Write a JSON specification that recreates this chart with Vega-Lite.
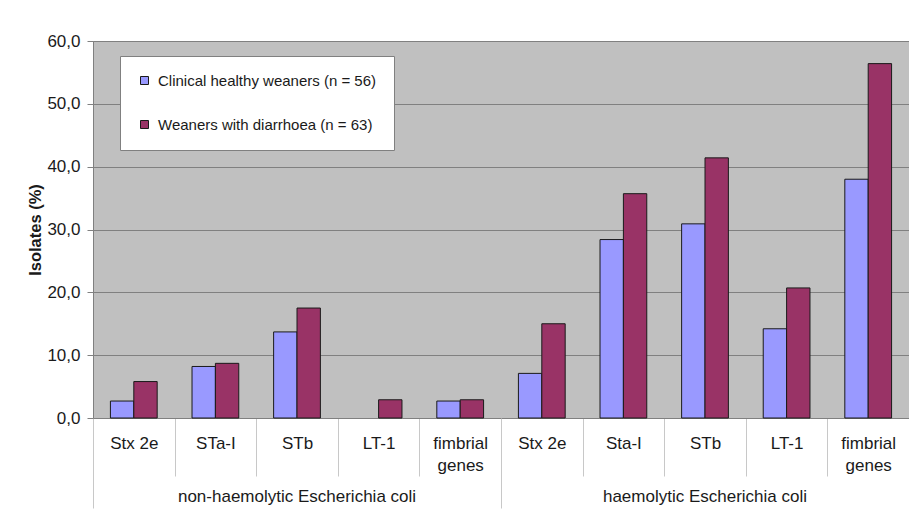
{
  "$schema": "https://vega.github.io/schema/vega-lite/v6.json",
  "width": 816,
  "height": 377,
  "autosize": {"type": "none"},
  "padding": {"left": 93, "top": 41, "right": 0, "bottom": 107},
  "background": "white",
  "config": {
    "font": "Liberation Sans",
    "view": {"fill": "#C0C0C0", "stroke": "#808080"},
    "axis": {"labelColor": "#1a1a1a", "titleColor": "#1a1a1a", "labelLimit": 0}
  },
  "data": {
    "values": [
      {"cat": "non-haemolytic Escherichia coli|Stx 2e", "series": "Clinical healthy weaners (n = 56)", "value": 2.7},
      {"cat": "non-haemolytic Escherichia coli|Stx 2e", "series": "Weaners with diarrhoea (n = 63)", "value": 5.8},
      {"cat": "non-haemolytic Escherichia coli|STa-I", "series": "Clinical healthy weaners (n = 56)", "value": 8.2},
      {"cat": "non-haemolytic Escherichia coli|STa-I", "series": "Weaners with diarrhoea (n = 63)", "value": 8.7},
      {"cat": "non-haemolytic Escherichia coli|STb", "series": "Clinical healthy weaners (n = 56)", "value": 13.7},
      {"cat": "non-haemolytic Escherichia coli|STb", "series": "Weaners with diarrhoea (n = 63)", "value": 17.5},
      {"cat": "non-haemolytic Escherichia coli|LT-1", "series": "Clinical healthy weaners (n = 56)", "value": 0},
      {"cat": "non-haemolytic Escherichia coli|LT-1", "series": "Weaners with diarrhoea (n = 63)", "value": 2.9},
      {"cat": "non-haemolytic Escherichia coli|fimbrial genes", "series": "Clinical healthy weaners (n = 56)", "value": 2.7},
      {"cat": "non-haemolytic Escherichia coli|fimbrial genes", "series": "Weaners with diarrhoea (n = 63)", "value": 2.9},
      {"cat": "haemolytic Escherichia coli|Stx 2e", "series": "Clinical healthy weaners (n = 56)", "value": 7.1},
      {"cat": "haemolytic Escherichia coli|Stx 2e", "series": "Weaners with diarrhoea (n = 63)", "value": 15.0},
      {"cat": "haemolytic Escherichia coli|Sta-I", "series": "Clinical healthy weaners (n = 56)", "value": 28.4},
      {"cat": "haemolytic Escherichia coli|Sta-I", "series": "Weaners with diarrhoea (n = 63)", "value": 35.7},
      {"cat": "haemolytic Escherichia coli|STb", "series": "Clinical healthy weaners (n = 56)", "value": 30.9},
      {"cat": "haemolytic Escherichia coli|STb", "series": "Weaners with diarrhoea (n = 63)", "value": 41.4},
      {"cat": "haemolytic Escherichia coli|LT-1", "series": "Clinical healthy weaners (n = 56)", "value": 14.2},
      {"cat": "haemolytic Escherichia coli|LT-1", "series": "Weaners with diarrhoea (n = 63)", "value": 20.7},
      {"cat": "haemolytic Escherichia coli|fimbrial genes", "series": "Clinical healthy weaners (n = 56)", "value": 38.0},
      {"cat": "haemolytic Escherichia coli|fimbrial genes", "series": "Weaners with diarrhoea (n = 63)", "value": 56.4}
    ]
  },
  "layer": [
    {
      "mark": {"type": "bar", "stroke": "#1a1a1a", "strokeWidth": 1},
      "encoding": {
        "x": {
          "field": "cat", "type": "nominal", "sort": null,
          "scale": {"paddingInner": 0, "paddingOuter": 0},
          "axis": {
            "orient": "bottom", "title": null, "grid": false,
            "labelExpr": "split(datum.value,'|')[1] == 'fimbrial genes' ? ['fimbrial','genes'] : split(datum.value,'|')[1]",
            "labelAngle": 0, "labelFontSize": 17, "labelLineHeight": 22,
            "tickBand": "extent", "tickSize": 58, "tickColor": "#c8c8c8",
            "labelPadding": -41, "domainColor": "#808080"
          }
        },
        "xOffset": {"field": "series", "type": "nominal", "sort": null, "scale": {"paddingInner": 0, "paddingOuter": 0.745}},
        "y": {
          "field": "value", "type": "quantitative",
          "scale": {"domain": [0, 60]},
          "axis": {
            "title": "Isolates (%)", "titleFontSize": 16.5, "titleFontWeight": "bold", "titlePadding": 3,
            "values": [0, 10, 20, 30, 40, 50, 60],
            "labelExpr": "replace(format(datum.value,'.1f'),'.',',')",
            "labelFontSize": 17, "labelPadding": 7, "tickSize": 6,
            "tickColor": "#808080", "domainColor": "#808080", "gridColor": "#808080"
          }
        },
        "strokeOpacity": {"condition": {"test": "datum.value == 0", "value": 0}, "value": 1},
        "color": {
          "field": "series", "type": "nominal", "sort": null,
          "scale": {"domain": ["Clinical healthy weaners (n = 56)", "Weaners with diarrhoea (n = 63)"], "range": ["#9999FF", "#993366"]},
          "legend": {
            "orient": "none", "legendX": 27, "legendY": 15, "title": null,
            "fillColor": "white", "strokeColor": "#808080", "padding": 17, "rowPadding": 28,
            "symbolType": "square", "symbolSize": 64, "symbolStrokeColor": "#1a1a1a", "symbolStrokeWidth": 1,
            "symbolOpacity": 1, "labelFontSize": 15, "labelOffset": 6, "labelColor": "#1a1a1a", "labelLimit": 0
          }
        }
      }
    },
    {
      "mark": {"type": "bar", "opacity": 0},
      "encoding": {
        "x": {
          "field": "cat", "type": "nominal", "sort": null,
          "axis": {
            "orient": "bottom", "title": null, "grid": false,
            "values": ["non-haemolytic Escherichia coli|STb", "haemolytic Escherichia coli|STb"],
            "labelExpr": "split(datum.value,'|')[0]",
            "ticks": false, "tickSize": 0, "domain": false,
            "labelPadding": 70, "labelAngle": 0, "labelFontSize": 17
          }
        }
      }
    },
    {
      "mark": {"type": "bar", "opacity": 0},
      "encoding": {
        "x": {
          "field": "cat", "type": "nominal", "sort": null,
          "axis": {
            "orient": "bottom", "title": null, "grid": false,
            "values": ["non-haemolytic Escherichia coli|Stx 2e", "haemolytic Escherichia coli|Stx 2e"],
            "labels": false, "domain": false, "bandPosition": 0,
            "tickSize": 90, "tickColor": "#c8c8c8"
          }
        }
      }
    }
  ],
  "resolve": {"axis": {"x": "independent"}}
}
